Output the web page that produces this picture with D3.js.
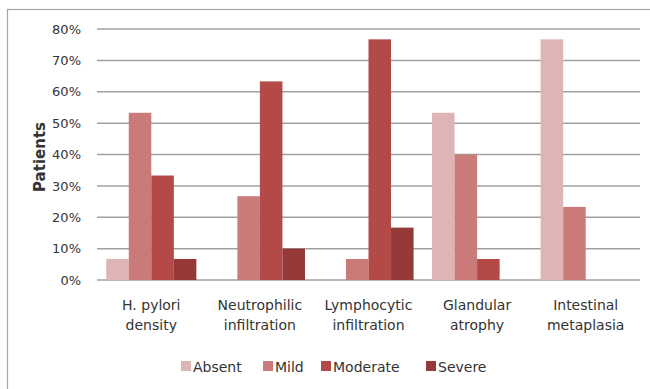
<!DOCTYPE html>
<html><head><meta charset="utf-8">
<script src="https://cdn.jsdelivr.net/npm/d3@7"></script>
<style>body{margin:0;background:#fff}svg{display:block}text{font-family:"DejaVu Sans",sans-serif;fill:#333}</style>
</head><body><svg id="c" width="650" height="389"></svg>
<script>
const categories = [["H. pylori","density"],["Neutrophilic","infiltration"],["Lymphocytic","infiltration"],["Glandular","atrophy"],["Intestinal","metaplasia"]];
const seriesNames = ["Absent","Mild","Moderate","Severe"];
const absent   = [6.7, 0, 0, 53.3, 76.7];
const mild     = [53.3, 26.7, 6.7, 40, 23.3];
const moderate = [33.3, 63.3, 76.7, 6.7, 0];
const severe   = [6.7, 10, 16.7, 0, 0];
const yTicks = [0,10,20,30,40,50,60,70,80];
const colors = ["#DEB4B4","#C97A79","#B34A48","#953A39"];
const seriesValues = [absent, mild, moderate, severe];

(function(){
const svg = d3.select("#c");
svg.append("rect").attr("x",7.5).attr("y",9.5).attr("width",700).attr("height",400)
  .attr("fill","none").attr("stroke","#A6A6A6").attr("stroke-width",1.2);

const pl=97, pr=640, pt=29, pb=280;
const x0 = d3.scaleBand().domain(d3.range(categories.length)).range([pl,pr]).paddingInner(0.17).paddingOuter(0.085);
const x1 = d3.scaleBand().domain(d3.range(seriesNames.length)).range([0,x0.bandwidth()]);
const y = d3.scaleLinear().domain([0,80]).range([pb,pt]);

svg.append("g").selectAll("line").data(yTicks).join("line")
  .attr("x1",pl).attr("x2",pr).attr("y1",d=>y(d)).attr("y2",d=>y(d))
  .attr("stroke","#A0A0A0").attr("stroke-width",1.5);

const yAxis = d3.axisLeft(y).tickValues(yTicks).tickFormat(d=>d+"%").tickSize(0).tickPadding(16);
const ya = svg.append("g").attr("transform",`translate(${pl},0)`).call(yAxis);
ya.select(".domain").remove();
ya.selectAll("text").attr("font-size",13).attr("fill","#333").style("font-family","DejaVu Sans");

svg.append("text").attr("transform","translate(45,157) rotate(-90)").attr("text-anchor","middle")
  .attr("font-size",15).attr("font-weight","bold").attr("fill","#222").text("Patients");

const groups = svg.append("g").selectAll("g").data(categories).join("g")
  .attr("transform",(d,i)=>`translate(${x0(i)},0)`);
groups.selectAll("rect").data((d,i)=>seriesValues.map((s,j)=>({j,v:s[i]}))).join("rect")
  .attr("x",d=>x1(d.j)).attr("width",x1.bandwidth()).attr("y",d=>y(d.v)).attr("height",d=>pb-y(d.v))
  .attr("fill",d=>colors[d.j]);

groups.each(function(d,i){
  const t = d3.select(this).append("text").attr("text-anchor","middle").attr("font-size",14).attr("fill","#333");
  d.forEach((line,k)=>t.append("tspan").attr("x",x0.bandwidth()/2).attr("y",310+k*20).text(line));
});

const legX = [181,263,321,426];
const leg = svg.append("g").selectAll("g").data(seriesNames).join("g")
  .attr("transform",(d,i)=>`translate(${legX[i]},361)`);
leg.append("rect").attr("width",10).attr("height",10).attr("fill",(d,i)=>colors[i]);
leg.append("text").attr("x",12).attr("y",11).attr("font-size",14).attr("fill","#333").text(d=>d);
})();
</script></body></html>
